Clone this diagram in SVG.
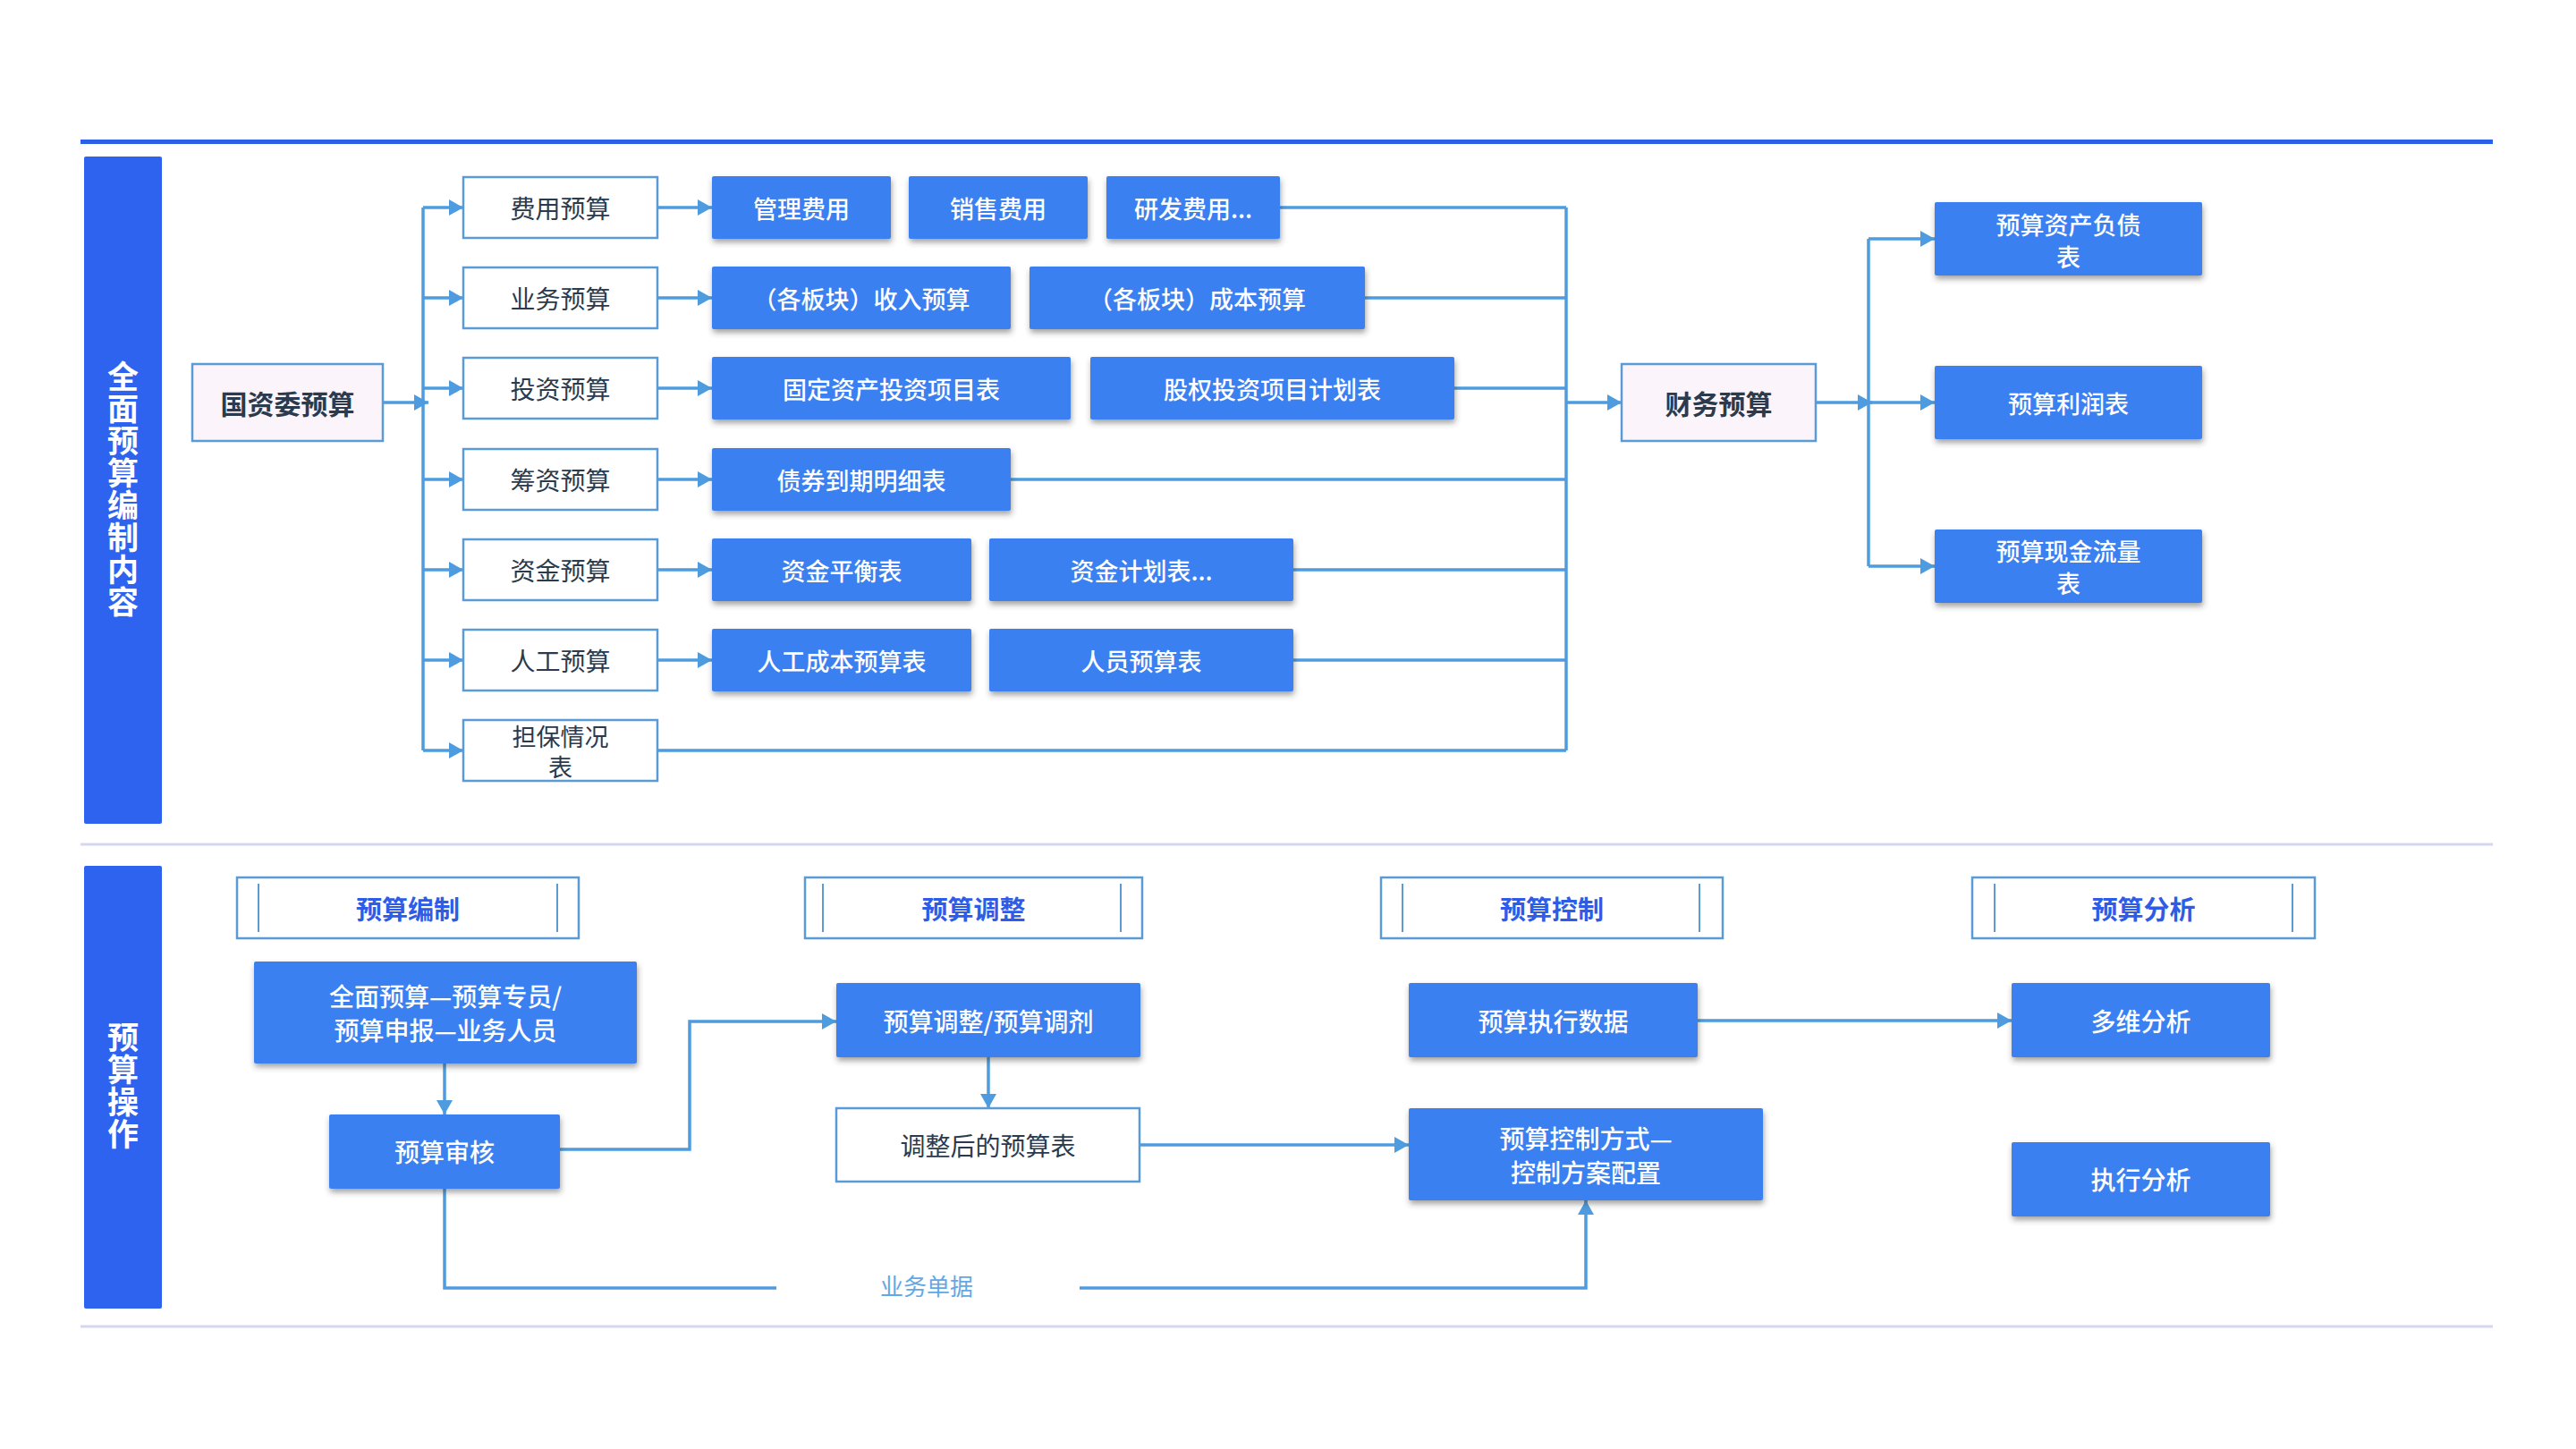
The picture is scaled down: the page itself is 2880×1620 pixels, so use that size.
<svg xmlns="http://www.w3.org/2000/svg" width="2880" height="1620" viewBox="0 0 2880 1620">
<defs>
<style>
text{font-family:"Noto Sans CJK SC","Noto Sans",sans-serif;text-anchor:middle;dominant-baseline:central}
.bar{fill:#2D63EE}
.vt{fill:#fff;font-size:35px;font-weight:700;writing-mode:vertical-rl;text-anchor:start;letter-spacing:1px}
.cat{fill:#fff;stroke:#5B9BD5;stroke-width:2.5}
.lav{fill:#FBF4FB;stroke:#5B9BD5;stroke-width:2.5}
.blue{fill:#3A80F0;filter:url(#sh)}
.dt{fill:#2B3A4C;font-size:28px}
.dtb{fill:#2B3A4C;font-size:30px;font-weight:700}
.wt{fill:#fff;font-size:27px;font-weight:500}
.hd{fill:#fff;stroke:#5B9BD5;stroke-width:2.5}
.hl{stroke:#5B9BD5;stroke-width:2}
.ht{fill:#2E5CE6;font-size:29px;font-weight:700}
.cn{fill:none;stroke:#4E9CDF;stroke-width:3.5}
.sep{stroke:#D3D7F0;stroke-width:3}
</style>
<filter id="sh" x="-10%" y="-20%" width="120%" height="150%">
<feDropShadow dx="1" dy="4" stdDeviation="3" flood-color="#333" flood-opacity="0.45"/>
</filter>
<marker id="ar" markerUnits="userSpaceOnUse" markerWidth="18" markerHeight="18" refX="16" refY="9" orient="auto" viewBox="0 0 18 18">
<path d="M0,0 L16,9 L0,18 z" fill="#4E9CDF"/>
</marker>
</defs>
<rect width="2880" height="1620" fill="#fff"/>
<rect x="90" y="156" width="2697" height="5" fill="#2B60E8"/>
<line class="sep" x1="90" y1="944" x2="2787" y2="944"/>
<line class="sep" x1="90" y1="1483" x2="2787" y2="1483"/>

<g id="bar1">
<rect class="bar" x="94" y="175" width="87" height="746" rx="2"/>
<text class="vt" x="137.5" y="403">全面预算编制内容</text>
</g>
<g id="bar2">
<rect class="bar" x="94" y="968" width="87" height="495" rx="2"/>
<text class="vt" x="137.5" y="1142">预算操作</text>
</g>

<g id="connectors">
<path class="cn" d="M428,450 H479" marker-end="url(#ar)"/>
<path class="cn" d="M473,232 V839"/>
<path class="cn" d="M473,232 H518" marker-end="url(#ar)"/>
<path class="cn" d="M473,333 H518" marker-end="url(#ar)"/>
<path class="cn" d="M473,434 H518" marker-end="url(#ar)"/>
<path class="cn" d="M473,536 H518" marker-end="url(#ar)"/>
<path class="cn" d="M473,637 H518" marker-end="url(#ar)"/>
<path class="cn" d="M473,738 H518" marker-end="url(#ar)"/>
<path class="cn" d="M473,839 H518" marker-end="url(#ar)"/>
<path class="cn" d="M735,232 H796" marker-end="url(#ar)"/>
<path class="cn" d="M735,333 H796" marker-end="url(#ar)"/>
<path class="cn" d="M735,434 H796" marker-end="url(#ar)"/>
<path class="cn" d="M735,536 H796" marker-end="url(#ar)"/>
<path class="cn" d="M735,637 H796" marker-end="url(#ar)"/>
<path class="cn" d="M735,738 H796" marker-end="url(#ar)"/>
<path class="cn" d="M1431,232 H1751"/>
<path class="cn" d="M1526,333 H1751"/>
<path class="cn" d="M1626,434 H1751"/>
<path class="cn" d="M1130,536 H1751"/>
<path class="cn" d="M1446,637 H1751"/>
<path class="cn" d="M1446,738 H1751"/>
<path class="cn" d="M735,839 H1751"/>
<path class="cn" d="M1751,232 V839"/>
<path class="cn" d="M1751,450 H1813" marker-end="url(#ar)"/>
<path class="cn" d="M2030,450 H2093" marker-end="url(#ar)"/>
<path class="cn" d="M2089,267 V633"/>
<path class="cn" d="M2089,267 H2163" marker-end="url(#ar)"/>
<path class="cn" d="M2089,450 H2163" marker-end="url(#ar)"/>
<path class="cn" d="M2089,633 H2163" marker-end="url(#ar)"/>
<path class="cn" d="M497,1189 V1246" marker-end="url(#ar)"/>
<path class="cn" d="M626,1285 H771 V1142 H935" marker-end="url(#ar)"/>
<path class="cn" d="M497,1329 V1440 H868"/>
<path class="cn" d="M1207,1440 H1773 V1342" marker-end="url(#ar)"/>
<path class="cn" d="M1105,1182 V1239" marker-end="url(#ar)"/>
<path class="cn" d="M1274,1280 H1575" marker-end="url(#ar)"/>
<path class="cn" d="M1898,1141 H2249" marker-end="url(#ar)"/>
<text x="1036" y="1436" style="fill:#62A8E4;font-size:26px">业务单据</text>
</g>

<g id="n-gzw"><rect class="lav" x="215" y="407" width="213" height="86"/><text class="dtb" x="321.5" y="450">国资委预算</text></g>

<g id="n-fy"><rect class="cat" x="518" y="198" width="217" height="68"/><text class="dt" x="626.5" y="232">费用预算</text></g>
<g id="n-yw"><rect class="cat" x="518" y="299" width="217" height="68"/><text class="dt" x="626.5" y="333">业务预算</text></g>
<g id="n-tz"><rect class="cat" x="518" y="400" width="217" height="68"/><text class="dt" x="626.5" y="434">投资预算</text></g>
<g id="n-cz"><rect class="cat" x="518" y="502" width="217" height="68"/><text class="dt" x="626.5" y="536">筹资预算</text></g>
<g id="n-zj"><rect class="cat" x="518" y="603" width="217" height="68"/><text class="dt" x="626.5" y="637">资金预算</text></g>
<g id="n-rg"><rect class="cat" x="518" y="704" width="217" height="68"/><text class="dt" x="626.5" y="738">人工预算</text></g>
<g id="n-db"><rect class="cat" x="518" y="805" width="217" height="68"/><text class="dt" style="font-size:27px"><tspan x="626.5" y="822">担保情况</tspan><tspan x="626.5" y="856">表</tspan></text></g>

<g id="n-glfy"><rect class="blue" x="796" y="197" width="200" height="70" rx="2"/><text class="wt" x="896" y="232">管理费用</text></g>
<g id="n-xsfy"><rect class="blue" x="1016" y="197" width="200" height="70" rx="2"/><text class="wt" x="1116" y="232">销售费用</text></g>
<g id="n-yffy"><rect class="blue" x="1237" y="197" width="194" height="70" rx="2"/><text class="wt" x="1334" y="232">研发费用...</text></g>
<g id="n-srys"><rect class="blue" x="796" y="298" width="334" height="70" rx="2"/><text class="wt" x="963" y="333">（各板块）收入预算</text></g>
<g id="n-cbys"><rect class="blue" x="1151" y="298" width="375" height="70" rx="2"/><text class="wt" x="1338.5" y="333">（各板块）成本预算</text></g>
<g id="n-gdzc"><rect class="blue" x="796" y="399" width="401" height="70" rx="2"/><text class="wt" x="996.5" y="434">固定资产投资项目表</text></g>
<g id="n-gqtz"><rect class="blue" x="1219" y="399" width="407" height="70" rx="2"/><text class="wt" x="1422.5" y="434">股权投资项目计划表</text></g>
<g id="n-zq"><rect class="blue" x="796" y="501" width="334" height="70" rx="2"/><text class="wt" x="963" y="536">债券到期明细表</text></g>
<g id="n-zjph"><rect class="blue" x="796" y="602" width="290" height="70" rx="2"/><text class="wt" x="941" y="637">资金平衡表</text></g>
<g id="n-zjjh"><rect class="blue" x="1106" y="602" width="340" height="70" rx="2"/><text class="wt" x="1276" y="637">资金计划表...</text></g>
<g id="n-rgcb"><rect class="blue" x="796" y="703" width="290" height="70" rx="2"/><text class="wt" x="941" y="738">人工成本预算表</text></g>
<g id="n-ryys"><rect class="blue" x="1106" y="703" width="340" height="70" rx="2"/><text class="wt" x="1276" y="738">人员预算表</text></g>

<g id="n-cwys"><rect class="lav" x="1813" y="407" width="217" height="86"/><text class="dtb" x="1921.5" y="450">财务预算</text></g>

<g id="n-zcfz"><rect class="blue" x="2163" y="226" width="299" height="82" rx="2"/><text class="wt"><tspan x="2312.5" y="250">预算资产负债</tspan><tspan x="2312.5" y="286">表</tspan></text></g>
<g id="n-lr"><rect class="blue" x="2163" y="409" width="299" height="82" rx="2"/><text class="wt" x="2312.5" y="450">预算利润表</text></g>
<g id="n-xjll"><rect class="blue" x="2163" y="592" width="299" height="82" rx="2"/><text class="wt"><tspan x="2312.5" y="615">预算现金流量</tspan><tspan x="2312.5" y="651">表</tspan></text></g>

<g id="h-bz"><rect class="hd" x="265" y="981" width="382" height="68"/><line class="hl" x1="289" y1="988" x2="289" y2="1042"/><line class="hl" x1="623" y1="988" x2="623" y2="1042"/><text class="ht" x="456" y="1015">预算编制</text></g>
<g id="h-tz"><rect class="hd" x="900" y="981" width="377" height="68"/><line class="hl" x1="920" y1="988" x2="920" y2="1042"/><line class="hl" x1="1253" y1="988" x2="1253" y2="1042"/><text class="ht" x="1088.5" y="1015">预算调整</text></g>
<g id="h-kz"><rect class="hd" x="1544" y="981" width="382" height="68"/><line class="hl" x1="1568" y1="988" x2="1568" y2="1042"/><line class="hl" x1="1900" y1="988" x2="1900" y2="1042"/><text class="ht" x="1735" y="1015">预算控制</text></g>
<g id="h-fx"><rect class="hd" x="2205" y="981" width="383" height="68"/><line class="hl" x1="2230" y1="988" x2="2230" y2="1042"/><line class="hl" x1="2563" y1="988" x2="2563" y2="1042"/><text class="ht" x="2396.5" y="1015">预算分析</text></g>

<g id="n-qmys"><rect class="blue" x="284" y="1075" width="428" height="114" rx="2"/><text class="wt" style="font-size:28px"><tspan x="498" y="1113">全面预算—预算专员/</tspan><tspan x="498" y="1151">预算申报—业务人员</tspan></text></g>
<g id="n-yssh"><rect class="blue" x="368" y="1246" width="258" height="83" rx="2"/><text class="wt" style="font-size:28px" x="497" y="1287">预算审核</text></g>
<g id="n-ystz"><rect class="blue" x="935" y="1099" width="340" height="83" rx="2"/><text class="wt" style="font-size:28px" x="1105" y="1141">预算调整/预算调剂</text></g>
<g id="n-tzh"><rect class="cat" x="935" y="1239" width="339" height="82"/><text class="dt" x="1104.5" y="1280">调整后的预算表</text></g>
<g id="n-zxsj"><rect class="blue" x="1575" y="1099" width="323" height="83" rx="2"/><text class="wt" style="font-size:28px" x="1736.5" y="1141">预算执行数据</text></g>
<g id="n-kzfs"><rect class="blue" x="1575" y="1239" width="396" height="103" rx="2"/><text class="wt" style="font-size:28px"><tspan x="1773" y="1272">预算控制方式—</tspan><tspan x="1773" y="1310">控制方案配置</tspan></text></g>
<g id="n-dwfx"><rect class="blue" x="2249" y="1099" width="289" height="83" rx="2"/><text class="wt" style="font-size:28px" x="2393.5" y="1141">多维分析</text></g>
<g id="n-zxfx"><rect class="blue" x="2249" y="1277" width="289" height="83" rx="2"/><text class="wt" style="font-size:28px" x="2393.5" y="1318">执行分析</text></g>
</svg>
